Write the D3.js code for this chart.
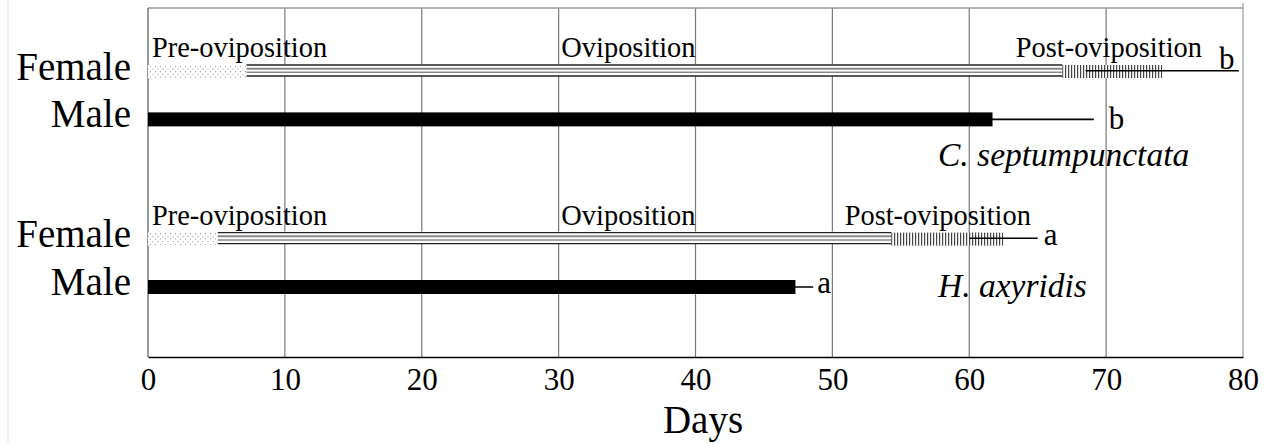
<!DOCTYPE html>
<html><head><meta charset="utf-8">
<script src="https://cdn.jsdelivr.net/npm/d3@7/dist/d3.min.js"></script>
<style>body{margin:0;background:#fff}svg{display:block}</style>
</head><body>
<svg id="c" width="1270" height="444"></svg>
<script>
// ---- data (days) ----
const species = ["C. septumpunctata", "H. axyridis"];
const preOviposition = [7.2, 5.1];      // duration
const oviposition = [59.6, 49.2];       // duration
const postOviposition = [7.3, 8.2];     // duration
const femaleSE = [5.6, 2.5];
const maleLongevity = [61.7, 47.3];
const maleSE = [7.4, 1.3];
const femaleLetters = ["b", "a"];
const maleLetters = ["b", "a"];
const phaseNames = ["Pre-oviposition", "Oviposition", "Post-oviposition"];
const xTicks = [0, 10, 20, 30, 40, 50, 60, 70, 80];
const sexLabels = ["Female", "Male"];

const svg = d3.select("#c");
const FONT = "'Liberation Serif','Times New Roman',serif";
const x = d3.scaleLinear().domain([0, 80]).range([148, 1243]);
// row index -> y (female/male rows for each species)
const rowIdx = [[0, 1], [3.5, 4.5]];
const y = d3.scaleLinear().domain([0, 4.5]).range([71.5, 287]);
const plotTop = 8, plotBottom = 357;

// faint left page line
svg.append("rect").attr("x", 7).attr("y", 0).attr("width", 2).attr("height", 444).attr("fill", "#efefef");

// patterns
const defs = svg.append("defs");
const dots = defs.append("pattern").attr("id", "dots").attr("patternUnits", "userSpaceOnUse")
  .attr("width", 5).attr("height", 5.4);
dots.append("rect").attr("width", 5).attr("height", 5.4).attr("fill", "#fff");
dots.append("rect").attr("x", 0).attr("y", 1).attr("width", 1).attr("height", 1).attr("fill", "#888");
dots.append("rect").attr("x", 2.5).attr("y", 3.7).attr("width", 1).attr("height", 1).attr("fill", "#888");
const hatch = defs.append("pattern").attr("id", "hatch").attr("patternUnits", "userSpaceOnUse")
  .attr("width", 3).attr("height", 10);
hatch.append("rect").attr("width", 3).attr("height", 10).attr("fill", "#fff");
hatch.append("rect").attr("x", 0).attr("width", 1.2).attr("height", 10).attr("fill", "#444");

// gridlines
svg.append("g").selectAll("line").data(xTicks.filter(d => d > 0)).join("line")
  .attr("x1", d => x(d)).attr("x2", d => x(d))
  .attr("y1", d => d === 80 ? 3 : plotTop).attr("y2", plotBottom)
  .attr("stroke", d => d === 80 ? "#999" : "#7a7a7a").attr("stroke-width", 1.2);
// top border + left line
svg.append("line").attr("x1", x(0)).attr("x2", x(80)).attr("y1", plotTop).attr("y2", plotTop)
  .attr("stroke", "#999").attr("stroke-width", 1.5);
svg.append("line").attr("x1", x(0)).attr("x2", x(0)).attr("y1", plotTop).attr("y2", plotBottom)
  .attr("stroke", "#777").attr("stroke-width", 1.5);

// x axis
const ax = svg.append("g").attr("transform", `translate(0,${plotBottom})`)
  .call(d3.axisBottom(x).tickValues(xTicks).tickSize(0).tickPadding(11).tickFormat(d3.format("d")));
ax.select(".domain").attr("stroke", "#000").attr("stroke-width", 1.5);
ax.selectAll("text").attr("font-family", FONT).attr("font-size", 31).attr("fill", "#000");
svg.append("text").attr("x", 703).attr("y", 433).attr("text-anchor", "middle")
  .attr("font-family", FONT).attr("font-size", 39).text("Days");

species.forEach((sp, i) => {
  const yf = y(rowIdx[i][0]), ym = y(rowIdx[i][1]);
  const pre = preOviposition[i], oviEnd = pre + oviposition[i], postEnd = oviEnd + postOviposition[i];
  const fh = 13;
  // pre-oviposition (dotted)
  svg.append("rect").attr("x", x(0)).attr("y", yf - fh / 2).attr("width", x(pre) - x(0)).attr("height", fh)
    .attr("fill", "url(#dots)");
  // oviposition (horizontal lines)
  svg.append("rect").attr("x", x(pre)).attr("y", yf - fh / 2 - 1).attr("width", x(oviEnd) - x(pre)).attr("height", fh - 1)
    .attr("fill", "#fff");
  const lines = [[-6.5, "#222", 1.4], [-2.8, "#888", 2], [0.8, "#888", 1.5], [4.5, "#222", 1.4]];
  lines.forEach(([dy, c, w]) => {
    svg.append("line").attr("x1", x(pre)).attr("x2", x(oviEnd)).attr("y1", yf + dy).attr("y2", yf + dy)
      .attr("stroke", c).attr("stroke-width", w);
  });
  // post-oviposition (vertical hatch)
  svg.append("rect").attr("x", x(oviEnd)).attr("y", yf - fh / 2).attr("width", x(postEnd) - x(oviEnd)).attr("height", fh)
    .attr("fill", "url(#hatch)");
  // female error bar
  const fErrEnd = postEnd + femaleSE[i];
  svg.append("line").attr("x1", x(postEnd - femaleSE[i])).attr("x2", x(fErrEnd))
    .attr("y1", yf - 0.8).attr("y2", yf - 0.8).attr("stroke", "#000").attr("stroke-width", 1.6);
  // male bar
  const mh = 14;
  svg.append("rect").attr("x", x(0)).attr("y", ym - mh / 2).attr("width", x(maleLongevity[i]) - x(0)).attr("height", mh)
    .attr("fill", "#000");
  const mErrEnd = maleLongevity[i] + maleSE[i];
  svg.append("line").attr("x1", x(maleLongevity[i] - maleSE[i])).attr("x2", x(mErrEnd))
    .attr("y1", ym).attr("y2", ym).attr("stroke", "#000").attr("stroke-width", 1.6);

  // letters
  let fx = x(fErrEnd) + 6, fy = yf + 6;
  if (fx > x(80) - 24) { fx = x(80) - 24; fy = yf - 2.5; }
  svg.append("text").attr("x", fx).attr("y", fy).attr("font-family", FONT).attr("font-size", 31).text(femaleLetters[i]);
  svg.append("text").attr("x", x(mErrEnd) + (i === 0 ? 15 : 4)).attr("y", ym + (i === 0 ? 10 : 6))
    .attr("font-family", FONT).attr("font-size", 31).text(maleLetters[i]);

  // phase labels
  const ly = yf - 14.5;
  const phaseX = [x(0) + 4, x(30.2), x(oviEnd - 3.4)];
  phaseNames.forEach((n, k) => {
    svg.append("text").attr("x", phaseX[k]).attr("y", ly).attr("font-family", FONT).attr("font-size", 28.4).text(n);
  });
  // sex labels
  [yf, ym].forEach((yy, k) => {
    svg.append("text").attr("x", 131).attr("y", yy + 8).attr("text-anchor", "end")
      .attr("font-family", FONT).attr("font-size", 39).text(sexLabels[k]);
  });
  // species label
  svg.append("text").attr("x", 938).attr("y", ym + (i === 0 ? 47 : 10)).attr("font-family", FONT)
    .attr("font-style", "italic").attr("font-size", 33.5).text(sp);
});
</script>
</body></html>
